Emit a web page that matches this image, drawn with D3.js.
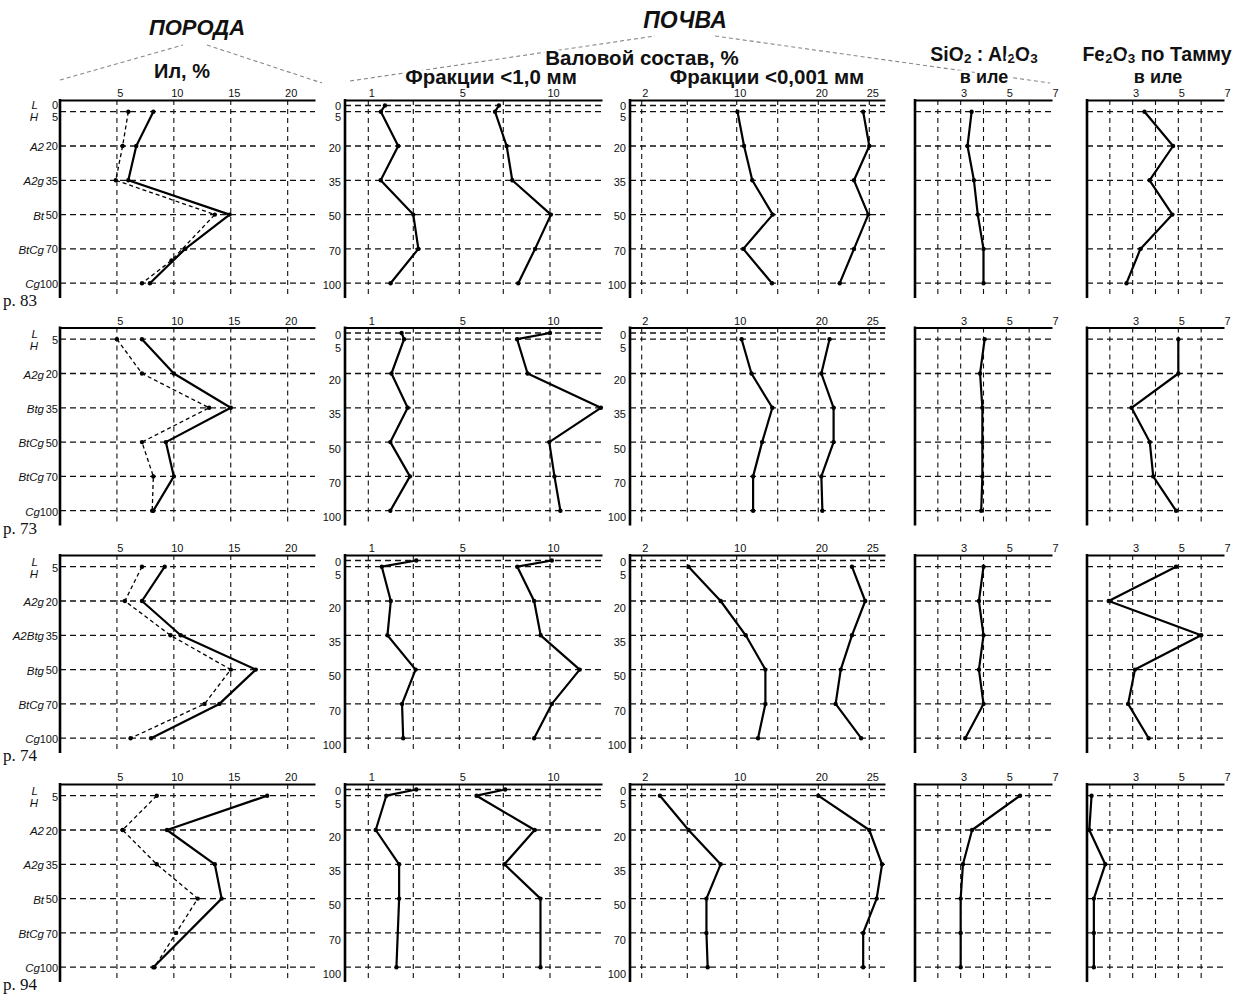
<!DOCTYPE html>
<html><head><meta charset="utf-8">
<script src="https://cdn.jsdelivr.net/npm/d3@7"></script>
<style>
body{margin:0;background:#fff;}
svg{display:block;}
</style></head><body>
<svg id="c" width="1235" height="999"></svg>
<script>
// ================= DATA =================
const profileNames = ["р. 83", "р. 73", "р. 74", "р. 94"];
const depthLevels = [0, 5, 20, 35, 50, 70, 100];
const rowDepths = [5, 20, 35, 50, 70, 100];
// horizon names for depths 20,35,50,70,100 (first row is L/H)
const horizons83 = ["A2", "A2g", "Bt", "BtCg", "Cg"];
const horizons73 = ["A2g", "Btg", "BtCg", "BtCg", "Cg"];
const horizons74 = ["A2g", "A2Btg", "Btg", "BtCg", "Cg"];
const horizons94 = ["A2", "A2g", "Bt", "BtCg", "Cg"];

// tick values / labels
const clayTicks = [5, 10, 15, 20];
const bulkTicks = [1, 3, 5, 7.5, 10];
const bulkLabels = ["1", "", "5", "", "10"];
const fineTicks = [2, 6, 10, 15, 20, 25];
const fineLabels = ["2", "", "10", "", "20", "25"];
const ratioGrid = [2, 3, 4, 5, 6];
const ratioLabelTicks = [3, 5, 7];

// series: [depth, value]
// Ил, % (solid and dashed)
const clayA_83 = [[5,8.2],[20,6.7],[35,6.0],[50,14.9],[70,11.0],[100,7.9]];
const clayB_83 = [[5,6.0],[20,5.5],[35,4.9],[50,13.6],[80,9.8],[100,7.2]];
const clayA_73 = [[5,7.2],[20,10.0],[35,15.0],[50,9.3],[70,10.0],[100,8.2]];
const clayB_73 = [[5,5.0],[20,7.2],[35,13.1],[50,7.2],[70,8.2],[100,8.1]];
const clayA_74 = [[5,9.2],[20,7.2],[35,10.6],[50,17.2],[70,14.0],[100,8.0]];
const clayB_74 = [[5,7.2],[20,5.7],[35,9.7],[50,15.0],[70,12.7],[100,6.2]];
const clayA_94 = [[5,18.2],[20,9.4],[35,13.6],[50,14.2],[100,8.2]];
const clayB_94 = [[5,8.5],[20,5.5],[35,8.5],[50,12.1],[70,10.2],[100,8.3]];

// Валовой состав, фракции <1,0 мм (two curves)
const bulkA_83 = [[0,1.74],[5,1.56],[20,2.33],[35,1.55],[50,3.0],[70,3.22],[100,1.99]];
const bulkB_83 = [[0,7.25],[5,7.03],[20,7.68],[35,7.98],[50,10.05],[70,9.2],[100,8.3]];
const bulkA_73 = [[0,2.48],[5,2.59],[20,2.03],[35,2.75],[50,1.98],[70,2.85],[100,1.98]];
const bulkB_73 = [[0,10.0],[5,8.24],[20,8.8],[35,12.74],[50,9.96],[70,10.24],[100,10.56]];
const bulkA_74 = [[0,3.13],[5,1.6],[20,2.0],[35,1.85],[50,3.1],[70,2.5],[100,2.55]];
const bulkB_74 = [[0,10.1],[5,8.25],[20,9.15],[35,9.5],[50,11.6],[70,10.1],[100,9.15]];
const bulkA_94 = [[0,3.13],[5,1.8],[20,1.33],[35,2.37],[50,2.37],[100,2.25]];
const bulkB_94 = [[0,7.6],[5,5.98],[20,9.18],[35,7.56],[50,9.49],[100,9.49]];

// Фракции <0,001 мм (two curves)
const fineA_83 = [[5,10.1],[20,10.9],[35,11.9],[50,14.4],[70,10.8],[100,14.3]];
const fineB_83 = [[5,24.4],[20,25.0],[35,23.5],[50,24.9],[70,23.5],[100,22.1]];
const fineA_73 = [[5,10.6],[20,11.8],[35,14.35],[50,13.1],[70,12.0],[100,12.0]];
const fineB_73 = [[5,21.1],[20,20.3],[35,21.5],[50,21.5],[70,20.3],[100,20.4]];
const fineA_74 = [[5,6.1],[20,8.7],[35,11.1],[50,13.5],[70,13.5],[100,12.6]];
const fineB_74 = [[5,23.3],[20,24.6],[35,23.3],[50,22.2],[70,21.7],[100,24.2]];
const fineA_94 = [[5,3.6],[20,6.1],[35,8.7],[50,7.55],[70,7.55],[100,7.65]];
const fineB_94 = [[5,20.0],[20,25.0],[35,26.3],[50,25.75],[70,24.4],[100,24.4]];

// SiO2 : Al2O3 в иле
const ratio_83 = [[5,3.48],[20,3.3],[35,3.58],[50,3.75],[70,4.0],[100,4.0]];
const ratio_73 = [[5,4.05],[20,3.85],[35,3.95],[50,3.95],[70,3.95],[100,3.9]];
const ratio_74 = [[5,4.0],[20,3.8],[35,4.0],[50,3.8],[70,4.0],[100,3.2]];
const ratio_94 = [[5,5.6],[20,3.5],[35,3.1],[50,3.0],[70,3.0],[100,3.0]];

// Fe2O3 по Тамму в иле
const fe_83 = [[5,3.52],[20,4.77],[35,3.74],[50,4.74],[70,3.34],[100,2.73]];
const fe_73 = [[5,5.0],[20,5.0],[35,2.95],[50,3.75],[70,3.9],[100,4.9]];
const fe_74 = [[5,4.9],[20,1.95],[35,6.0],[50,3.1],[70,2.8],[100,3.7]];
const fe_94 = [[5,1.2],[20,1.1],[35,1.8],[50,1.3],[70,1.3],[100,1.3]];

// ================= LAYOUT =================
const rowTops = [100, 327.5, 555, 784];
const horizonsByRow = [horizons83, horizons73, horizons74, horizons94];
const seriesByRow = [
  {clayA: clayA_83, clayB: clayB_83, bulkA: bulkA_83, bulkB: bulkB_83, fineA: fineA_83, fineB: fineB_83, ratio: ratio_83, fe: fe_83},
  {clayA: clayA_73, clayB: clayB_73, bulkA: bulkA_73, bulkB: bulkB_73, fineA: fineA_73, fineB: fineB_73, ratio: ratio_73, fe: fe_73},
  {clayA: clayA_74, clayB: clayB_74, bulkA: bulkA_74, bulkB: bulkB_74, fineA: fineA_74, fineB: fineB_74, ratio: ratio_74, fe: fe_74},
  {clayA: clayA_94, clayB: clayB_94, bulkA: bulkA_94, bulkB: bulkB_94, fineA: fineA_94, fineB: fineB_94, ratio: ratio_94, fe: fe_94}
];

const xClay = d3.scaleLinear().domain([0, 22.4]).range([60, 315]);
const xBulk = d3.scaleLinear().domain([0, 1, 3, 5, 7.5, 10, 12.8]).range([345, 368.3, 413.3, 459.3, 503.3, 550, 602]);
const xFine = d3.scaleLinear().domain([1, 2, 6, 10, 15, 20, 25, 26.6]).range([630, 641.7, 687.3, 736.7, 777.7, 818.3, 869.3, 885]);
const xRatio = d3.scaleLinear().domain([1, 7]).range([915, 1052]);
const xFe = d3.scaleLinear().domain([1, 7]).range([1087, 1224]);

const panels = [
  {x: xClay, grid: clayTicks, labelTicks: clayTicks, fmt: d => d, hDepths: rowDepths, series: [["clayA", false], ["clayB", true]]},
  {x: xBulk, grid: bulkTicks, labelTicks: bulkTicks, fmt: (d, i) => bulkLabels[i], hDepths: depthLevels, series: [["bulkA", false], ["bulkB", false]], depthLabels: true},
  {x: xFine, grid: fineTicks, labelTicks: fineTicks, fmt: (d, i) => fineLabels[i], hDepths: depthLevels, series: [["fineA", false], ["fineB", false]], depthLabels: true},
  {x: xRatio, grid: ratioGrid, labelTicks: ratioLabelTicks, fmt: d => d, hDepths: rowDepths, series: [["ratio", false]]},
  {x: xFe, grid: ratioGrid, labelTicks: ratioLabelTicks, fmt: d => d, hDepths: rowDepths, series: [["fe", false]]}
];

const svg = d3.select("#c");
svg.append("rect").attr("width", 1235).attr("height", 999).attr("fill", "#fff");

const FONT = "'Liberation Sans Narrow','Arial Narrow','Liberation Sans',Arial,sans-serif";
const FONTB = "'Liberation Sans',Arial,sans-serif";

// ================= HEADERS =================
const hdr = svg.append("g");
const hdrLines = [
  [60, 80, 183, 45], [207, 45, 322, 83],
  [350, 81, 655, 36], [715, 36, 1050, 83]
];
hdr.selectAll("line").data(hdrLines).join("line")
  .attr("x1", d => d[0]).attr("y1", d => d[1]).attr("x2", d => d[2]).attr("y2", d => d[3])
  .attr("stroke", "#888").attr("stroke-width", 1.1).attr("stroke-dasharray", "4,3");

function htext(x, y, txt, size, italic) {
  return hdr.append("text").attr("x", x).attr("y", y).attr("text-anchor", "middle")
    .attr("font-family", FONTB).attr("font-weight", "bold").attr("font-size", size)
    .attr("font-style", italic ? "italic" : "normal")
    .attr("stroke", "#fff").attr("stroke-width", 5).attr("paint-order", "stroke")
    .attr("fill", "#111").text(txt);
}
htext(197, 35, "ПОРОДА", 22, true);
htext(685, 28, "ПОЧВА", 23, true);
htext(182, 78, "Ил, %", 20, false);
htext(642, 65, "Валовой состав, %", 20.5, false);
htext(491, 84, "Фракции <1,0 мм", 20.5, false);
htext(767, 84, "Фракции <0,001 мм", 20.5, false);
htext(984, 83, "в иле", 18, false);
htext(1158, 83, "в иле", 18, false);

function chem(x, y, parts) {
  const t = hdr.append("text").attr("x", x).attr("y", y).attr("text-anchor", "middle")
    .attr("font-family", FONTB).attr("font-weight", "bold").attr("font-size", 19.5)
    .attr("stroke", "#fff").attr("stroke-width", 5).attr("paint-order", "stroke").attr("fill", "#111");
  let sub = false;
  parts.forEach(p => {
    const isSub = typeof p === "number";
    const ts = t.append("tspan").text(String(p));
    if (isSub && !sub) { ts.attr("dy", 2).attr("font-size", 13.5); sub = true; }
    else if (isSub && sub) { ts.attr("font-size", 13.5); }
    else if (!isSub && sub) { ts.attr("dy", -2); sub = false; }
  });
}
chem(984, 61, ["SiO", 2, " : Al", 2, "O", 3]);
chem(1157, 61, ["Fe", 2, "O", 3, " по Тамму"]);

// ================= ROWS =================
rowTops.forEach((T, r) => {
  const y = d3.scaleLinear()
    .domain([0, 5, 20, 35, 50, 70, 100])
    .range([T + 5.5, T + 11.7, T + 46, T + 80.3, T + 114.6, T + 148.9, T + 183.2]);
  const bottom = T + 198;
  const S = seriesByRow[r];

  panels.forEach((p, pi) => {
    const g = svg.append("g");
    const x = p.x;
    const rg = x.range();
    const x0 = rg[0], x1 = rg[rg.length - 1];

    // vertical dashed grid
    g.selectAll("line.v").data(p.grid).join("line").attr("class", "v")
      .attr("x1", d => x(d)).attr("x2", d => x(d)).attr("y1", T).attr("y2", bottom)
      .attr("stroke", "#111").attr("stroke-width", 1.1).attr("stroke-dasharray", "5,4");
    // horizontal dashed grid
    g.selectAll("line.h").data(p.hDepths).join("line").attr("class", "h")
      .attr("x1", x0).attr("x2", x1).attr("y1", d => y(d)).attr("y2", d => y(d))
      .attr("stroke", "#111").attr("stroke-width", 1.3).attr("stroke-dasharray", "6,4");

    // top axis
    const ax = g.append("g").attr("transform", `translate(0,${T})`)
      .call(d3.axisTop(x).tickValues(p.labelTicks).tickFormat(p.fmt).tickSize(0).tickSizeOuter(0).tickPadding(3));
    ax.select(".domain").attr("stroke", "#000").attr("stroke-width", 2.2);
    ax.selectAll("text").attr("dx", 3).attr("font-family", FONT).attr("font-size", 11).attr("fill", "#111");

    // left axis line
    g.append("line").attr("x1", x0).attr("x2", x0).attr("y1", T - 1).attr("y2", bottom)
      .attr("stroke", "#000").attr("stroke-width", 2.6);

    // depth labels for panels 2 and 3
    if (p.depthLabels) {
      const off = r === 0 ? {0: 0.5, 5: 5.3, o: 2} : {0: 2, 5: 8.8, o: 6.8};
      g.selectAll("text.dl").data(depthLevels).join("text").attr("class", "dl")
        .attr("x", x0 - 4).attr("y", d => y(d) + (d === 0 ? off[0] : d === 5 ? off[5] : off.o))
        .attr("dy", "0.35em").attr("text-anchor", "end")
        .attr("font-family", FONT).attr("font-size", 11).attr("fill", "#111").text(d => d);
    }

    // data lines
    p.series.forEach(([key, dashed]) => {
      const data = S[key];
      g.append("path").datum(data)
        .attr("d", d3.line().x(d => x(d[1])).y(d => y(d[0])))
        .attr("fill", "none").attr("stroke", "#000")
        .attr("stroke-width", dashed ? 1.3 : 2.2)
        .attr("stroke-dasharray", dashed ? "4,3" : null)
        .attr("stroke-linejoin", "round");
      g.selectAll(null).data(data).join("circle")
        .attr("cx", d => x(d[1])).attr("cy", d => y(d[0])).attr("r", 2.2).attr("fill", "#000");
    });
  });

  // panel 1 left labels: depth numbers + horizons
  const g1 = svg.append("g");
  const x0 = xClay.range()[0];
  const depthLab = r === 0 ? depthLevels : rowDepths;
  g1.selectAll("text.dn").data(depthLab).join("text").attr("class", "dn")
    .attr("x", x0 - 2)
    .attr("y", d => y(d) + (r === 0 ? (d === 0 ? -0.5 : d === 5 ? 5 : 0.5) : 1))
    .attr("dy", "0.35em").attr("text-anchor", "end")
    .attr("font-family", FONT).attr("font-size", 11).attr("fill", "#111").text(d => d);
  const hz = horizonsByRow[r];
  g1.selectAll("text.hz").data(hz).join("text").attr("class", "hz")
    .attr("x", (d, i) => x0 - (rowDepths[i + 1] === 100 ? 20 : 16))
    .attr("y", (d, i) => y(rowDepths[i + 1]) + 1)
    .attr("dy", "0.35em").attr("text-anchor", "end")
    .attr("font-family", FONTB).attr("font-style", "italic").attr("font-size", 11.5).attr("fill", "#111").text(d => d);
  // L / H
  const lY = r === 0 ? [T + 5, T + 17] : [T + 6.5, T + 18.5];
  g1.selectAll("text.lh").data(["L", "H"]).join("text").attr("class", "lh")
    .attr("x", x0 - 22).attr("y", (d, i) => lY[i]).attr("dy", "0.35em").attr("text-anchor", "end")
    .attr("font-family", FONTB).attr("font-style", "italic").attr("font-size", 11.5).attr("fill", "#111").text(d => d);

  // profile label
  svg.append("text").attr("x", 3).attr("y", T + 206)
    .attr("font-family", "'Liberation Serif','Times New Roman',serif").attr("font-size", 17).attr("fill", "#111")
    .text(profileNames[r]);
});
</script>
</body></html>
